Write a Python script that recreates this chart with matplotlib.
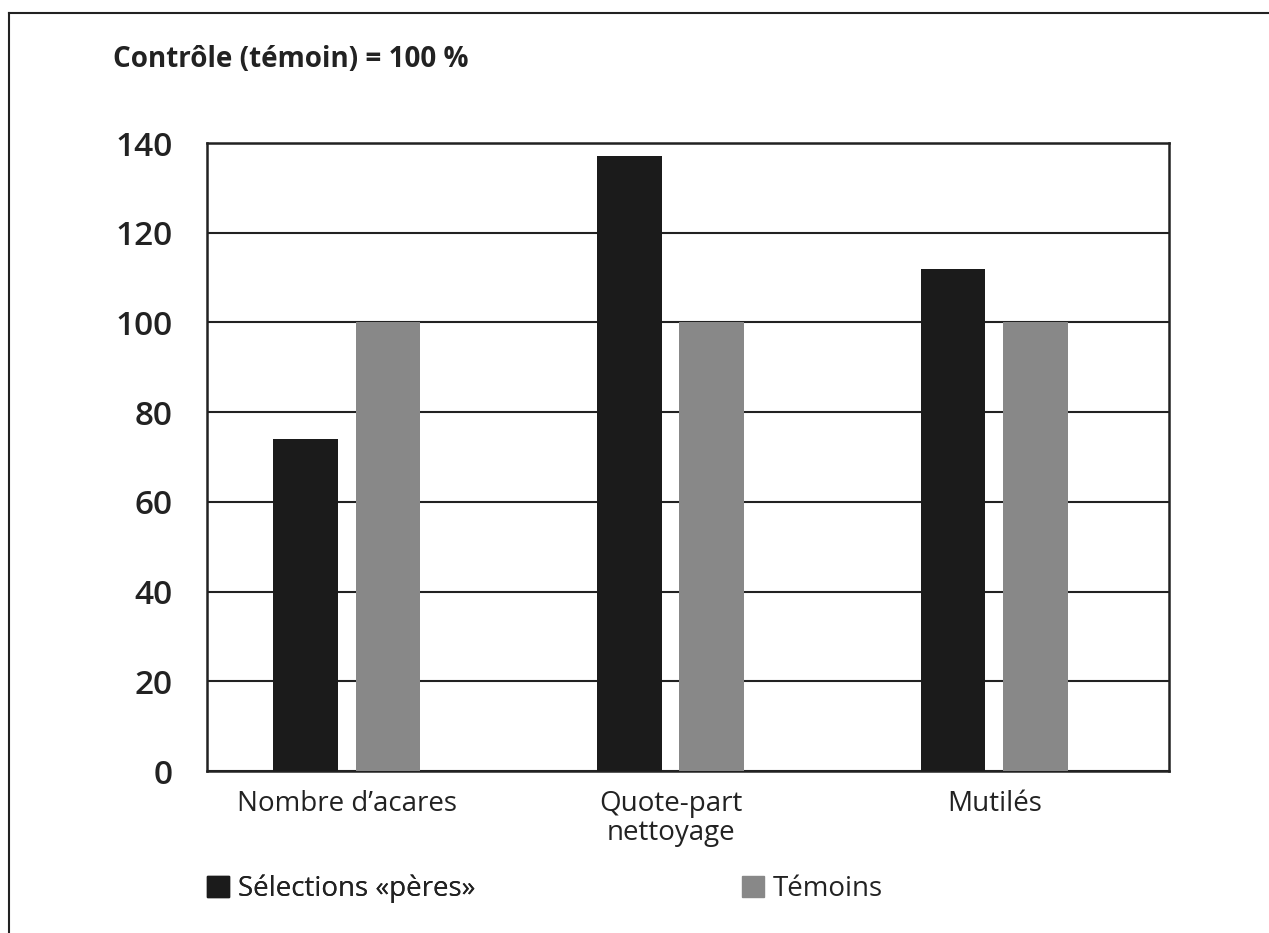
import matplotlib
matplotlib.use("Agg")
import matplotlib.pyplot as plt
import numpy as np
from matplotlib.patches import Patch
from matplotlib.lines import Line2D

""" Data read off the scanned chart """
categories = ["Nombre d’acares", "Quote-part\nnettoyage", "Mutilés"]
selections = [74, 137, 112]     # Sélections «pères»
temoins = [100, 100, 100]       # Témoins (contrôle)
yticks = [0, 20, 40, 60, 80, 100, 120, 140]

BLACK = "#1b1b1b"
GREY = "#888888"
INK = "#222222"

plt.rcParams['font.family'] = ['Open Sans', 'DejaVu Sans']

W, H = 1269, 933
fig = plt.figure(figsize=(W / 100, H / 100), dpi=100)
ax = fig.add_axes([207 / W, 1 - 771 / H, (1169 - 207) / W, (771 - 143) / H])

x = np.arange(len(categories))
bw = 0.2
ax.bar(x - 0.127, selections, bw, color=BLACK, zorder=3)
ax.bar(x + 0.127, temoins, bw, color=GREY, zorder=3)

ax.set_xlim(-0.432, 2.54)
ax.set_ylim(0, 140)
ax.set_yticks(yticks)
ax.set_yticklabels([str(v) for v in yticks], fontsize=24, fontweight='semibold', color=INK)
ax.set_xticks(x)
ax.set_xticklabels(categories, fontsize=20, color=INK, linespacing=1.05)
ax.tick_params(axis='y', length=0, pad=25)
ax.tick_params(axis='x', length=0, pad=14)
ax.yaxis.grid(True, color=INK, lw=1.5)
ax.set_axisbelow(True)
for s in ax.spines.values():
    s.set_color(INK)
    s.set_linewidth(1.8)

# title
fig.text(113 / W, 1 - 67 / H, "Contrôle (témoin) = 100 %", fontsize=20,
         fontweight='bold', color=INK, va='baseline', ha='left')

# legend (two separate entries, far apart)
leg1 = fig.legend(handles=[Patch(color=BLACK, label="Sélections «pères»")],
                  loc='center left', bbox_to_anchor=(182 / W, 1 - 889 / H),
                  frameon=False, fontsize=20, handlelength=0.8, handleheight=0.8,
                  handletextpad=0.3, labelcolor=INK)
fig.legend(handles=[Patch(color=GREY, label="Témoins")],
           loc='center left', bbox_to_anchor=(717 / W, 1 - 889 / H),
           frameon=False, fontsize=20, handlelength=0.8, handleheight=0.8,
           handletextpad=0.3, labelcolor=INK)
fig.add_artist(leg1)

# frame around the figure (left and top edges of the scanned box)
fig.add_artist(Line2D([9 / W, 9 / W], [0, 1 - 13 / H], color=INK, lw=1.5))
fig.add_artist(Line2D([9 / W, 1], [1 - 13 / H, 1 - 13 / H], color=INK, lw=1.5))

fig.savefig("out.png", dpi=100)
